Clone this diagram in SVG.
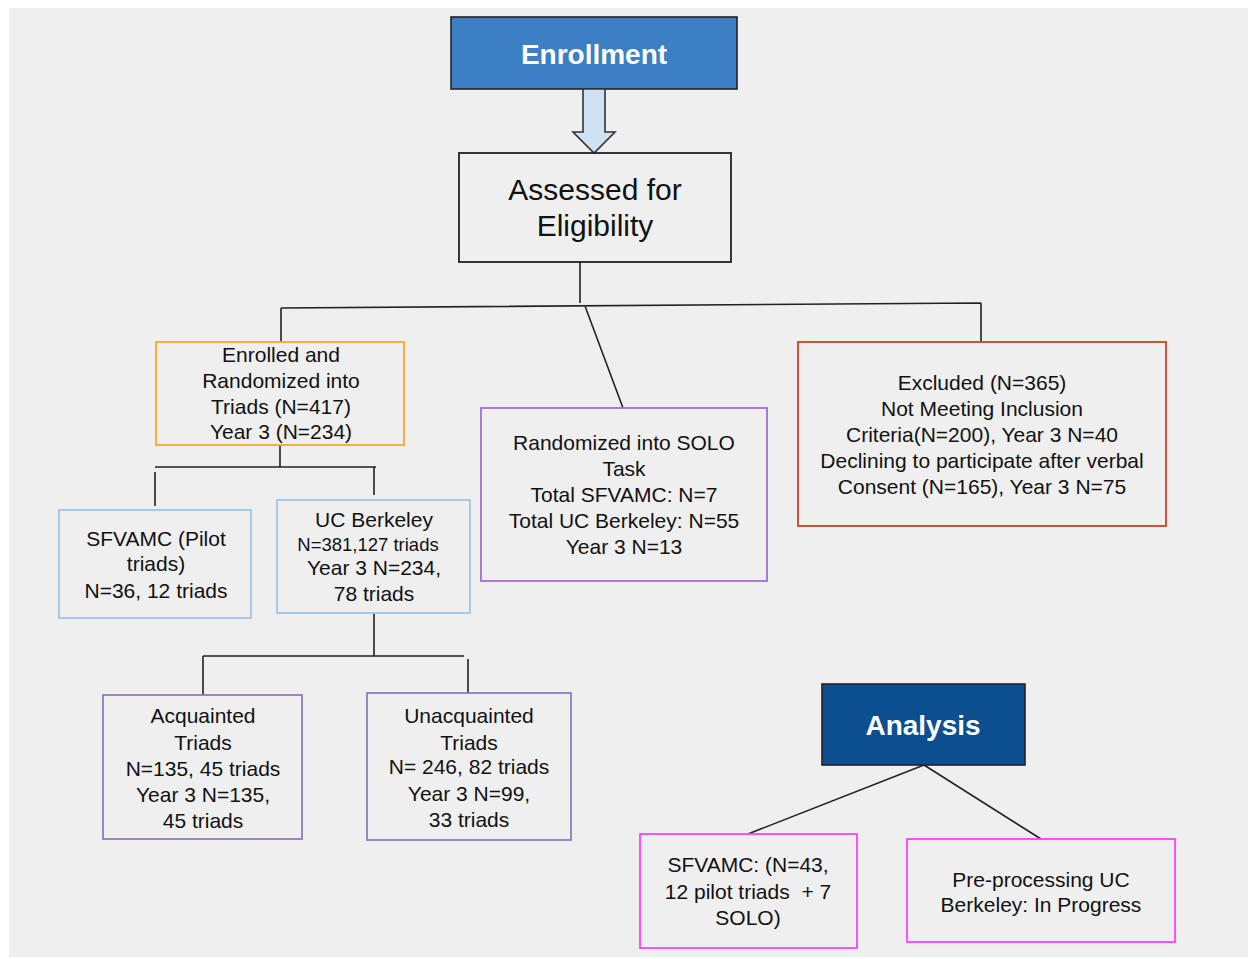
<svg xmlns="http://www.w3.org/2000/svg" width="1250" height="959" viewBox="0 0 1250 959">
<style>
.bg{fill:#efefef}
.box{fill:none;stroke-width:1.8}
.t{font-family:"Liberation Sans",Arial,sans-serif;font-size:21px;fill:#111;text-anchor:middle}
.sm{font-size:18.5px}
.big{font-size:30px}
.hd{font-family:"Liberation Sans",Arial,sans-serif;font-size:28px;font-weight:bold;fill:#fff;text-anchor:middle}
.ln{fill:none;stroke:#222;stroke-width:1.6}
</style>
<rect width="1250" height="959" fill="#fff"/>
<rect class="bg" x="9" y="8" width="1239" height="949"/>
<g id="connectors">
<path class="ln" d="M580 262V303M281 308L981 303M281 308V342M981 303V342M585 306L623 408"/>
<path class="ln" d="M280 445V467M155 467H376M155 472V506M374 467V495"/>
<path class="ln" d="M374 613V656M203 656H464M203 656V695M468 659V693"/>
<path class="ln" d="M924 765L748 834M924 765L1041 839"/>
</g>
<g id="enrollment">
<rect x="451" y="17" width="286" height="72" fill="#3d7fc5" stroke="#222" stroke-width="1.6"/>
<text class="hd" x="594" y="64">Enrollment</text>
</g>
<g id="arrow">
<path d="M583 89H605V132H615L594 153L573 132H583Z" fill="#cfe2f3" stroke="#333" stroke-width="1.6"/>
</g>
<g id="assessed">
<rect class="box" x="459" y="153" width="272" height="109" stroke="#222" stroke-width="1.6"/>
<text class="t big" x="595" y="200">Assessed for</text>
<text class="t big" x="595" y="236">Eligibility</text>
</g>
<g id="enrolled">
<rect class="box" x="156" y="342" width="248" height="103" stroke="#f7a928"/>
<text class="t" x="281" y="362">Enrolled and</text>
<text class="t" x="281" y="388">Randomized into</text>
<text class="t" x="281" y="414">Triads (N=417)</text>
<text class="t" x="281" y="439">Year 3 (N=234)</text>
</g>
<g id="solo">
<rect class="box" x="481" y="408" width="286" height="173" stroke="#a56bd8"/>
<text class="t" x="624" y="450">Randomized into SOLO</text>
<text class="t" x="624" y="476">Task</text>
<text class="t" x="624" y="502">Total SFVAMC: N=7</text>
<text class="t" x="624" y="528">Total UC Berkeley: N=55</text>
<text class="t" x="624" y="554">Year 3 N=13</text>
</g>
<g id="excluded">
<rect class="box" x="798" y="342" width="368" height="184" stroke="#cc4125"/>
<text class="t" x="982" y="390">Excluded (N=365)</text>
<text class="t" x="982" y="416">Not Meeting Inclusion</text>
<text class="t" x="982" y="442">Criteria(N=200), Year 3 N=40</text>
<text class="t" x="982" y="468">Declining to participate after verbal</text>
<text class="t" x="982" y="494">Consent (N=165), Year 3 N=75</text>
</g>
<g id="sfvamc">
<rect class="box" x="59" y="510" width="192" height="108" stroke="#9fc5e8"/>
<text class="t" x="156" y="546">SFVAMC (Pilot</text>
<text class="t" x="156" y="571">triads)</text>
<text class="t" x="156" y="598">N=36, 12 triads</text>
</g>
<g id="ucberkeley">
<rect class="box" x="277" y="500" width="193" height="113" stroke="#9fc5e8"/>
<text class="t" x="374" y="527">UC Berkeley</text>
<text class="t sm" x="368" y="551">N=381,127 triads</text>
<text class="t" x="374" y="575">Year 3 N=234,</text>
<text class="t" x="374" y="601">78 triads</text>
</g>
<g id="acquainted">
<rect class="box" x="103" y="695" width="199" height="144" stroke="#8e7cc3"/>
<text class="t" x="203" y="723">Acquainted</text>
<text class="t" x="203" y="750">Triads</text>
<text class="t" x="203" y="776">N=135, 45 triads</text>
<text class="t" x="203" y="802">Year 3 N=135,</text>
<text class="t" x="203" y="828">45 triads</text>
</g>
<g id="unacquainted">
<rect class="box" x="367" y="693" width="204" height="147" stroke="#8e7cc3"/>
<text class="t" x="469" y="723">Unacquainted</text>
<text class="t" x="469" y="750">Triads</text>
<text class="t" x="469" y="774">N= 246, 82 triads</text>
<text class="t" x="469" y="801">Year 3 N=99,</text>
<text class="t" x="469" y="827">33 triads</text>
</g>
<g id="analysis">
<rect x="822" y="684" width="203" height="81" fill="#0b4f91" stroke="#222" stroke-width="1.6"/>
<text class="hd" x="923" y="735">Analysis</text>
</g>
<g id="sfvamc-analysis">
<rect class="box" x="640" y="834" width="217" height="114" stroke="#ff40ff"/>
<text class="t" x="748" y="872">SFVAMC: (N=43,</text>
<text class="t" x="748" y="899" xml:space="preserve">12 pilot triads  + 7</text>
<text class="t" x="748" y="925">SOLO)</text>
</g>
<g id="preprocessing">
<rect class="box" x="907" y="839" width="268" height="103" stroke="#ff40ff"/>
<text class="t" x="1041" y="887">Pre-processing UC</text>
<text class="t" x="1041" y="912">Berkeley: In Progress</text>
</g>
</svg>
